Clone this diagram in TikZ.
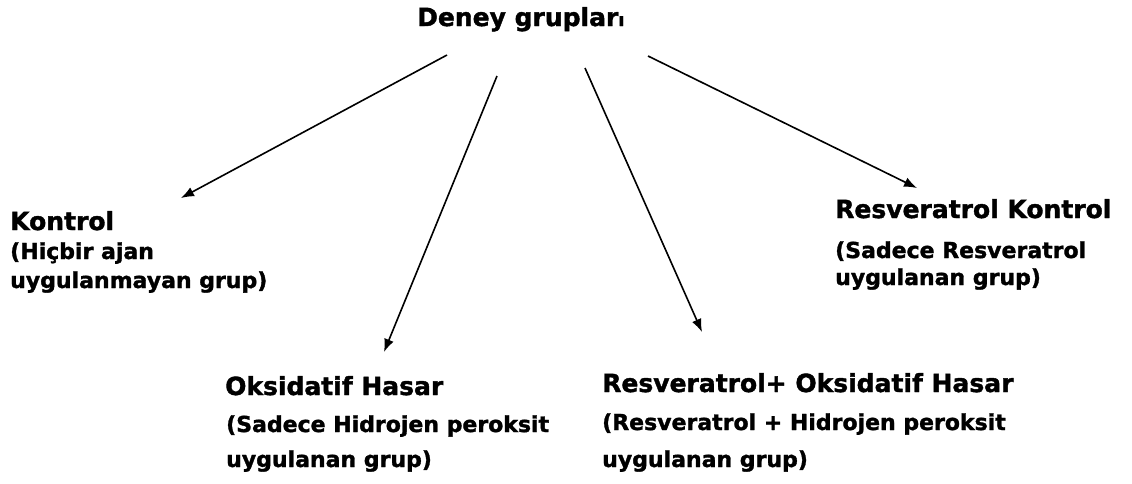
\documentclass[tikz,border=0pt]{standalone}
\usepackage{fontspec}
\setmainfont{DejaVu Sans}[BoldFeatures={FakeBold=1.5}]
\usetikzlibrary{arrows.meta}
\tikzset{
  head/.style={anchor=base west, inner sep=0pt, font=\bfseries\fontsize{25}{30}\selectfont},
  sub/.style={anchor=base west, inner sep=0pt, font=\bfseries\fontsize{22}{26}\selectfont},
  conn/.style={line width=1.6pt, -{Latex[length=13pt,width=10pt]}}
}
\begin{document}
\begin{tikzpicture}[x=1pt,y=-1pt]
\useasboundingbox (0,0) rectangle (1132,483);
% title
\node[head] (title) at (417,26) {Deney grupla\fontsize{25}{30}\selectfont r\fontsize{18}{22}\selectfont ı};
% Kontrol
\node[head] (k1) at (10,230) {Kontrol};
\node[sub] (k2) at (10,259) {(Hiçbir ajan};
\node[sub] (k3) at (10,288) {uygulanmayan grup)};
% Oksidatif
\node[head] (o1) at (225,395) {Oksidatif Hasar};
\node[sub] (o2) at (226,432) {(Sadece Hidrojen peroksit};
\node[sub] (o3) at (226,467) {uygulanan grup)};
% Resveratrol + Oksidatif
\node[head] (r1) at (602,392) {Resveratrol+ Oksidatif Hasar};
\node[sub] (r2) at (602,430) {(Resveratrol + Hidrojen peroksit};
\node[sub] (r3) at (602,467) {uygulanan grup)};
% Resveratrol Kontrol
\node[head] (c1) at (835,218) {Resveratrol Kontrol};
\node[sub] (c2) at (835,258) {(Sadece Resveratrol};
\node[sub] (c3) at (835,285) {uygulanan grup)};
% connector ends
\coordinate (s1) at (447,55);  \coordinate (e1) at (181,198);
\coordinate (s2) at (497,76);  \coordinate (e2) at (384,352);
\coordinate (s3) at (585,68);  \coordinate (e3) at (702,332);
\coordinate (s4) at (648,56);  \coordinate (e4) at (917,188);
\draw[conn] (s1) -- (e1);
\draw[conn] (s2) -- (e2);
\draw[conn] (s3) -- (e3);
\draw[conn] (s4) -- (e4);
\end{tikzpicture}
\end{document}
